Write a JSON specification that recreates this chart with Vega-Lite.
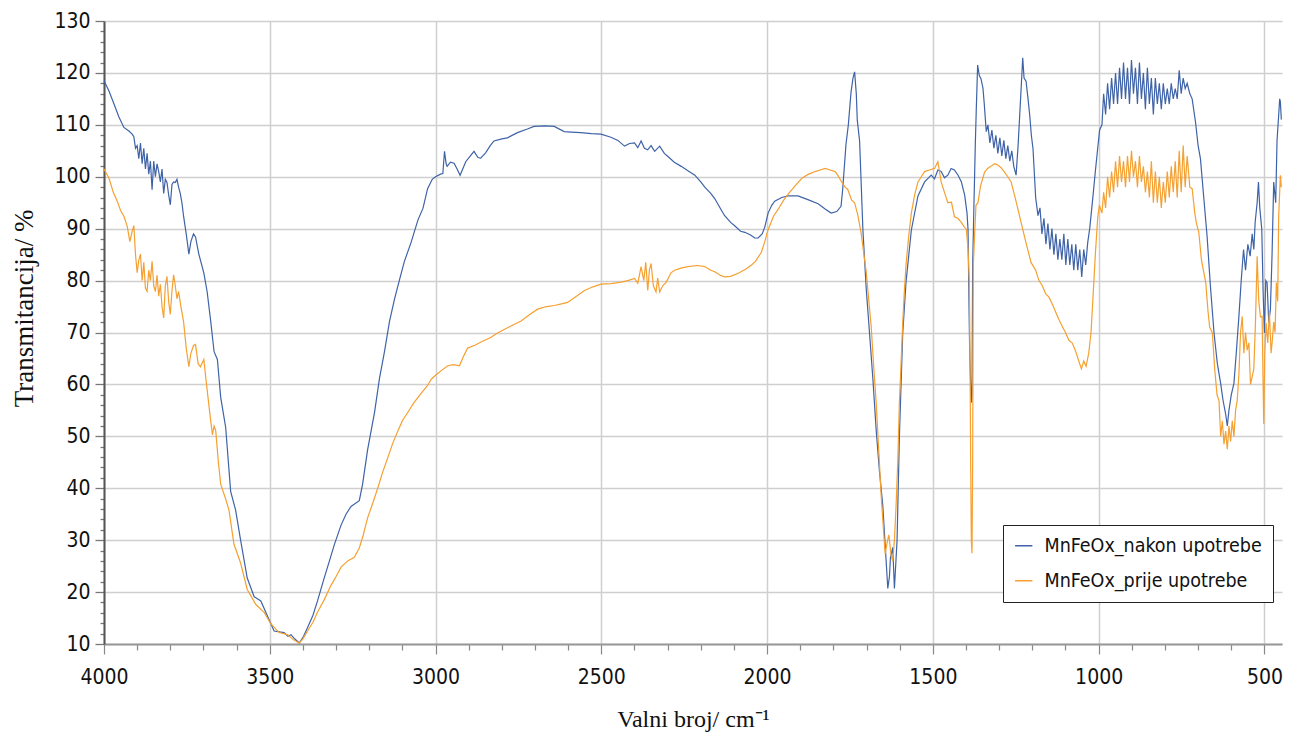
{
  "$schema": "https://vega.github.io/schema/vega-lite/v6.json",
  "autosize": "none",
  "padding": {"left": 104, "top": 21, "right": 7, "bottom": 100},
  "width": 1178,
  "height": 623,
  "background": "white",
  "config": {"view": {"stroke": null}},
  "datasets": {
    "nakon": [
      {"v":4000,"t":118.5},{"v":3985,"t":116.5},{"v":3971,"t":114.2},{"v":3955,"t":111.5},{"v":3940,"t":109.5},{"v":3925,"t":108.8},{"v":3915,"t":108.2},{"v":3910,"t":107.7},{"v":3905,"t":105.5},{"v":3900,"t":106},{"v":3895,"t":103.5},{"v":3890,"t":106.5},{"v":3885,"t":102.5},{"v":3880,"t":105.5},{"v":3875,"t":101.5},{"v":3870,"t":104.5},{"v":3865,"t":100.5},{"v":3860,"t":103},{"v":3855,"t":97.5},{"v":3850,"t":103},{"v":3845,"t":100},{"v":3840,"t":102.5},{"v":3835,"t":101},{"v":3830,"t":99},{"v":3825,"t":101.5},{"v":3820,"t":96.8},{"v":3815,"t":99.5},{"v":3810,"t":98.9},{"v":3805,"t":96.5},{"v":3800,"t":94.6},{"v":3795,"t":98.5},{"v":3790,"t":99},{"v":3785,"t":98.9},{"v":3780,"t":99.5},{"v":3775,"t":98},{"v":3770,"t":96.8},{"v":3765,"t":95},{"v":3760,"t":92.4},{"v":3752,"t":89},{"v":3744,"t":85.1},{"v":3738,"t":87.5},{"v":3730,"t":89},{"v":3724,"t":88.4},{"v":3714,"t":85.1},{"v":3699,"t":81.5},{"v":3689,"t":77.9},{"v":3678,"t":72.1},{"v":3668,"t":66.3},{"v":3658,"t":64.8},{"v":3648,"t":57.5},{"v":3633,"t":51.7},{"v":3618,"t":39.4},{"v":3603,"t":35.8},{"v":3588,"t":30},{"v":3568,"t":22.7},{"v":3547,"t":19.1},{"v":3527,"t":18.3},{"v":3507,"t":15.4},{"v":3487,"t":12.5},{"v":3457,"t":12.2},{"v":3445,"t":11.5},{"v":3436,"t":11.8},{"v":3425,"t":11},{"v":3411,"t":10.2},{"v":3398,"t":11.5},{"v":3386,"t":13.2},{"v":3370,"t":15.5},{"v":3356,"t":18.3},{"v":3336,"t":22.7},{"v":3320,"t":26},{"v":3305,"t":29.2},{"v":3285,"t":32.9},{"v":3270,"t":35},{"v":3255,"t":36.5},{"v":3230,"t":37.6},{"v":3220,"t":40.8},{"v":3205,"t":47.4},{"v":3184,"t":54.6},{"v":3169,"t":61.2},{"v":3154,"t":66.3},{"v":3139,"t":72.1},{"v":3124,"t":76.4},{"v":3109,"t":80.1},{"v":3094,"t":83.7},{"v":3074,"t":87.3},{"v":3053,"t":91.7},{"v":3038,"t":93.9},{"v":3024,"t":97.7},{"v":3010,"t":99.5},{"v":3000,"t":100},{"v":2985,"t":100.5},{"v":2978,"t":100.6},{"v":2973,"t":104.9},{"v":2968,"t":102.5},{"v":2965,"t":102},{"v":2955,"t":102.8},{"v":2944,"t":102.6},{"v":2935,"t":101.5},{"v":2926,"t":100.3},{"v":2918,"t":101.5},{"v":2909,"t":102.9},{"v":2895,"t":104},{"v":2884,"t":104.9},{"v":2872,"t":103.7},{"v":2864,"t":103.6},{"v":2849,"t":104.6},{"v":2835,"t":106},{"v":2824,"t":106.9},{"v":2800,"t":107.3},{"v":2783,"t":107.5},{"v":2753,"t":108.5},{"v":2723,"t":109.2},{"v":2703,"t":109.7},{"v":2670,"t":109.8},{"v":2642,"t":109.7},{"v":2612,"t":108.7},{"v":2590,"t":108.6},{"v":2562,"t":108.5},{"v":2530,"t":108.3},{"v":2501,"t":108.2},{"v":2471,"t":107.6},{"v":2450,"t":107},{"v":2430,"t":105.9},{"v":2415,"t":106.4},{"v":2400,"t":106.5},{"v":2390,"t":105.6},{"v":2380,"t":106.9},{"v":2370,"t":105.5},{"v":2360,"t":105.2},{"v":2350,"t":106},{"v":2339,"t":104.9},{"v":2324,"t":105.9},{"v":2310,"t":104.5},{"v":2299,"t":103.9},{"v":2280,"t":102.8},{"v":2259,"t":102},{"v":2240,"t":101.2},{"v":2218,"t":100.3},{"v":2200,"t":99},{"v":2188,"t":98},{"v":2170,"t":96.8},{"v":2158,"t":95.8},{"v":2140,"t":93.8},{"v":2128,"t":92.5},{"v":2110,"t":91.2},{"v":2097,"t":90.5},{"v":2080,"t":89.5},{"v":2067,"t":89.3},{"v":2050,"t":88.8},{"v":2037,"t":88.2},{"v":2027,"t":88.2},{"v":2015,"t":89},{"v":2007,"t":90.3},{"v":1997,"t":93},{"v":1986,"t":94.5},{"v":1977,"t":95.3},{"v":1956,"t":96},{"v":1937,"t":96.3},{"v":1907,"t":96.3},{"v":1877,"t":95.6},{"v":1846,"t":94.8},{"v":1825,"t":93.8},{"v":1807,"t":93},{"v":1790,"t":93.3},{"v":1777,"t":94.3},{"v":1772,"t":97.6},{"v":1762,"t":106.3},{"v":1755,"t":110},{"v":1747,"t":116.2},{"v":1741,"t":119},{"v":1736,"t":120.2},{"v":1731,"t":116},{"v":1728,"t":110.9},{"v":1721,"t":106.9},{"v":1711,"t":89.7},{"v":1701,"t":78.4},{"v":1691,"t":69.8},{"v":1681,"t":61.1},{"v":1671,"t":51.2},{"v":1661,"t":43.2},{"v":1651,"t":36.6},{"v":1641,"t":26},{"v":1636,"t":20.7},{"v":1631,"t":23},{"v":1628,"t":26.6},{"v":1621,"t":28.6},{"v":1616,"t":20.7},{"v":1608,"t":30},{"v":1601,"t":49.9},{"v":1591,"t":69.8},{"v":1581,"t":79.7},{"v":1565,"t":89.7},{"v":1545,"t":96.3},{"v":1525,"t":99},{"v":1505,"t":100.3},{"v":1495,"t":99.6},{"v":1485,"t":101.3},{"v":1475,"t":101},{"v":1465,"t":99.8},{"v":1455,"t":100.3},{"v":1445,"t":101.6},{"v":1435,"t":101.3},{"v":1424,"t":100.3},{"v":1414,"t":99},{"v":1404,"t":96.4},{"v":1397,"t":93},{"v":1394,"t":89.9},{"v":1391,"t":75},{"v":1389,"t":66.6},{"v":1386,"t":60},{"v":1384,"t":56.5},{"v":1382,"t":58},{"v":1380,"t":83},{"v":1376,"t":95},{"v":1372,"t":106.3},{"v":1369,"t":113.2},{"v":1365,"t":121.5},{"v":1360,"t":119.5},{"v":1355,"t":118.9},{"v":1349,"t":117.1},{"v":1345,"t":114},{"v":1339,"t":108.7},{"v":1334,"t":110},{"v":1328,"t":106.5},{"v":1322,"t":109},{"v":1316,"t":105.5},{"v":1310,"t":108},{"v":1304,"t":104.5},{"v":1298,"t":107.5},{"v":1292,"t":104},{"v":1286,"t":107},{"v":1280,"t":103.5},{"v":1274,"t":106},{"v":1268,"t":103},{"v":1262,"t":105},{"v":1256,"t":102},{"v":1249,"t":100.3},{"v":1243,"t":106},{"v":1238,"t":112},{"v":1233,"t":118},{"v":1229,"t":122.9},{"v":1225,"t":119},{"v":1219,"t":118.4},{"v":1213,"t":115},{"v":1208,"t":111.9},{"v":1203,"t":108},{"v":1198,"t":105.4},{"v":1190,"t":96},{"v":1183,"t":92.5},{"v":1177,"t":94},{"v":1171,"t":89},{"v":1165,"t":92},{"v":1159,"t":87},{"v":1153,"t":91},{"v":1147,"t":86},{"v":1141,"t":90},{"v":1135,"t":85},{"v":1129,"t":89},{"v":1123,"t":84},{"v":1117,"t":88},{"v":1111,"t":84},{"v":1105,"t":89},{"v":1099,"t":83},{"v":1093,"t":88},{"v":1087,"t":83},{"v":1081,"t":87},{"v":1075,"t":82},{"v":1069,"t":87},{"v":1063,"t":82},{"v":1057,"t":86},{"v":1051,"t":80.7},{"v":1045,"t":86},{"v":1039,"t":83},{"v":1033,"t":87.3},{"v":1027,"t":90},{"v":1018,"t":95.7},{"v":1010,"t":101},{"v":1003,"t":105.4},{"v":997,"t":109},{"v":990,"t":110},{"v":985,"t":116},{"v":979,"t":112},{"v":973,"t":118},{"v":967,"t":113},{"v":961,"t":119},{"v":955,"t":114},{"v":949,"t":120},{"v":943,"t":114},{"v":937,"t":121},{"v":931,"t":115},{"v":925,"t":122},{"v":919,"t":115},{"v":913,"t":121},{"v":907,"t":114},{"v":901,"t":122.5},{"v":895,"t":116},{"v":889,"t":121},{"v":883,"t":114},{"v":877,"t":122},{"v":871,"t":115},{"v":865,"t":120},{"v":859,"t":113},{"v":853,"t":121},{"v":847,"t":114},{"v":841,"t":119},{"v":835,"t":112},{"v":829,"t":119},{"v":823,"t":114},{"v":817,"t":118},{"v":811,"t":113},{"v":805,"t":118},{"v":799,"t":114},{"v":793,"t":117},{"v":787,"t":114},{"v":781,"t":118},{"v":775,"t":115},{"v":769,"t":117},{"v":763,"t":115},{"v":757,"t":120.5},{"v":751,"t":116},{"v":745,"t":119},{"v":739,"t":117},{"v":733,"t":118},{"v":725,"t":116},{"v":718,"t":115},{"v":708,"t":110.6},{"v":700,"t":106},{"v":693,"t":103.5},{"v":683,"t":96},{"v":673,"t":88.6},{"v":663,"t":79},{"v":652,"t":69.9},{"v":642,"t":64},{"v":632,"t":60.2},{"v":625,"t":57},{"v":617,"t":54.3},{"v":612,"t":52},{"v":607,"t":55},{"v":600,"t":58},{"v":592,"t":60.2},{"v":585,"t":66},{"v":577,"t":73.1},{"v":570,"t":80},{"v":563,"t":86},{"v":557,"t":82},{"v":550,"t":87},{"v":543,"t":84.7},{"v":537,"t":89},{"v":532,"t":86},{"v":528,"t":91.2},{"v":522,"t":95},{"v":518,"t":99},{"v":514,"t":94},{"v":508,"t":89.9},{"v":504,"t":78},{"v":500,"t":69.9},{"v":496,"t":80},{"v":492,"t":79.6},{"v":487,"t":72},{"v":482,"t":74.4},{"v":477,"t":85},{"v":472,"t":99},{"v":466,"t":95},{"v":462,"t":107},{"v":457,"t":111.9},{"v":454,"t":115},{"v":452,"t":114.5},{"v":449,"t":111}
    ],
    "prije": [
      {"v":4000,"t":101.5},{"v":3985,"t":99.7},{"v":3972,"t":97},{"v":3960,"t":95.3},{"v":3950,"t":93.5},{"v":3940,"t":92.4},{"v":3930,"t":90.5},{"v":3922,"t":87.5},{"v":3915,"t":89.5},{"v":3910,"t":90.6},{"v":3905,"t":85},{"v":3900,"t":81.5},{"v":3895,"t":84},{"v":3890,"t":85.1},{"v":3885,"t":80},{"v":3880,"t":83.5},{"v":3875,"t":78.5},{"v":3870,"t":77.9},{"v":3865,"t":82},{"v":3860,"t":80},{"v":3855,"t":83.7},{"v":3850,"t":79},{"v":3845,"t":77.9},{"v":3840,"t":81},{"v":3835,"t":77},{"v":3830,"t":79.3},{"v":3825,"t":75},{"v":3820,"t":72.8},{"v":3815,"t":79},{"v":3810,"t":80.8},{"v":3805,"t":76},{"v":3800,"t":73.5},{"v":3795,"t":78},{"v":3790,"t":81.1},{"v":3785,"t":79},{"v":3780,"t":76.5},{"v":3775,"t":77.9},{"v":3768,"t":75},{"v":3760,"t":72.1},{"v":3752,"t":67},{"v":3744,"t":63.4},{"v":3738,"t":66},{"v":3730,"t":67.5},{"v":3724,"t":67.7},{"v":3716,"t":64},{"v":3709,"t":63.4},{"v":3699,"t":64.8},{"v":3689,"t":59},{"v":3680,"t":54},{"v":3673,"t":50.3},{"v":3668,"t":52},{"v":3663,"t":51.1},{"v":3655,"t":45},{"v":3648,"t":40.8},{"v":3633,"t":37.9},{"v":3623,"t":35.8},{"v":3608,"t":29.2},{"v":3588,"t":25.6},{"v":3568,"t":20.5},{"v":3542,"t":17.6},{"v":3517,"t":16.1},{"v":3497,"t":13.9},{"v":3472,"t":12.2},{"v":3447,"t":11.8},{"v":3426,"t":10.7},{"v":3411,"t":10.2},{"v":3400,"t":11},{"v":3386,"t":12.5},{"v":3370,"t":14.2},{"v":3356,"t":16.1},{"v":3336,"t":18.5},{"v":3316,"t":21.2},{"v":3300,"t":23},{"v":3285,"t":24.8},{"v":3265,"t":26},{"v":3245,"t":26.7},{"v":3230,"t":28.5},{"v":3218,"t":31},{"v":3205,"t":34.3},{"v":3190,"t":37},{"v":3174,"t":40.1},{"v":3160,"t":43},{"v":3144,"t":45.9},{"v":3130,"t":48.5},{"v":3114,"t":51},{"v":3100,"t":53},{"v":3084,"t":54.6},{"v":3065,"t":56.5},{"v":3043,"t":58.3},{"v":3024,"t":59.8},{"v":3013,"t":61},{"v":2999,"t":61.8},{"v":2980,"t":62.8},{"v":2963,"t":63.6},{"v":2945,"t":63.8},{"v":2928,"t":63.6},{"v":2915,"t":65.5},{"v":2903,"t":67},{"v":2880,"t":67.6},{"v":2858,"t":68.3},{"v":2835,"t":69},{"v":2813,"t":69.9},{"v":2780,"t":71},{"v":2742,"t":72.2},{"v":2715,"t":73.5},{"v":2692,"t":74.5},{"v":2665,"t":75},{"v":2642,"t":75.2},{"v":2620,"t":75.5},{"v":2602,"t":75.8},{"v":2575,"t":77},{"v":2551,"t":78.1},{"v":2525,"t":78.8},{"v":2501,"t":79.3},{"v":2470,"t":79.4},{"v":2440,"t":79.7},{"v":2420,"t":80},{"v":2400,"t":80.4},{"v":2390,"t":79.5},{"v":2380,"t":82.7},{"v":2372,"t":80},{"v":2366,"t":83.5},{"v":2360,"t":78.1},{"v":2355,"t":82},{"v":2350,"t":83.3},{"v":2343,"t":79},{"v":2335,"t":77.8},{"v":2330,"t":80.5},{"v":2324,"t":77.8},{"v":2315,"t":79},{"v":2304,"t":79.7},{"v":2290,"t":81.5},{"v":2279,"t":82},{"v":2260,"t":82.4},{"v":2239,"t":82.7},{"v":2210,"t":82.9},{"v":2188,"t":82.7},{"v":2170,"t":82},{"v":2158,"t":81.7},{"v":2140,"t":81},{"v":2128,"t":80.7},{"v":2110,"t":80.8},{"v":2087,"t":81.4},{"v":2065,"t":82.2},{"v":2047,"t":83},{"v":2035,"t":83.7},{"v":2017,"t":85.5},{"v":2007,"t":87.5},{"v":1997,"t":89.8},{"v":1980,"t":92.5},{"v":1966,"t":93.8},{"v":1950,"t":95.5},{"v":1936,"t":96.7},{"v":1915,"t":98.3},{"v":1895,"t":99.7},{"v":1875,"t":100.5},{"v":1855,"t":101},{"v":1840,"t":101.3},{"v":1825,"t":101.6},{"v":1810,"t":101.3},{"v":1795,"t":101},{"v":1787,"t":100.3},{"v":1775,"t":99},{"v":1765,"t":98},{"v":1757,"t":97.6},{"v":1745,"t":95.5},{"v":1736,"t":95},{"v":1726,"t":92.5},{"v":1716,"t":89},{"v":1708,"t":85},{"v":1701,"t":81.7},{"v":1693,"t":76},{"v":1686,"t":71.1},{"v":1678,"t":63},{"v":1671,"t":56.5},{"v":1663,"t":47},{"v":1656,"t":38.6},{"v":1650,"t":33},{"v":1644,"t":27.3},{"v":1638,"t":29.5},{"v":1633,"t":31},{"v":1631,"t":30},{"v":1626,"t":27},{"v":1621,"t":26},{"v":1616,"t":30},{"v":1611,"t":36.6},{"v":1606,"t":45},{"v":1601,"t":56.5},{"v":1596,"t":64},{"v":1591,"t":71.8},{"v":1586,"t":78},{"v":1581,"t":83},{"v":1573,"t":88.5},{"v":1565,"t":93},{"v":1555,"t":96.5},{"v":1545,"t":99},{"v":1535,"t":100},{"v":1525,"t":101},{"v":1510,"t":101.3},{"v":1495,"t":101.6},{"v":1485,"t":102.9},{"v":1480,"t":101},{"v":1475,"t":99},{"v":1465,"t":97},{"v":1455,"t":95},{"v":1444,"t":95.1},{"v":1435,"t":92.3},{"v":1425,"t":92},{"v":1414,"t":91.2},{"v":1405,"t":90.3},{"v":1399,"t":89.9},{"v":1394,"t":86},{"v":1390,"t":80},{"v":1388,"t":65},{"v":1386,"t":45},{"v":1384,"t":30},{"v":1382,"t":27.5},{"v":1380,"t":45},{"v":1378,"t":83},{"v":1374,"t":89},{"v":1370,"t":94.5},{"v":1364,"t":95},{"v":1356,"t":98.3},{"v":1344,"t":100.9},{"v":1335,"t":101.6},{"v":1325,"t":102},{"v":1314,"t":102.5},{"v":1305,"t":102.3},{"v":1295,"t":101.8},{"v":1284,"t":100.9},{"v":1274,"t":100},{"v":1264,"t":99},{"v":1250,"t":95.5},{"v":1234,"t":91.2},{"v":1220,"t":87.5},{"v":1204,"t":83.5},{"v":1190,"t":82},{"v":1180,"t":80},{"v":1170,"t":79},{"v":1160,"t":77.5},{"v":1150,"t":76.8},{"v":1140,"t":75.5},{"v":1130,"t":74},{"v":1120,"t":72.5},{"v":1110,"t":71.2},{"v":1100,"t":70},{"v":1090,"t":68.5},{"v":1080,"t":68},{"v":1070,"t":66.5},{"v":1060,"t":64.5},{"v":1052,"t":63},{"v":1045,"t":64.5},{"v":1038,"t":63.5},{"v":1030,"t":66},{"v":1023,"t":70},{"v":1016,"t":78},{"v":1010,"t":85},{"v":1003,"t":92},{"v":998,"t":94.5},{"v":990,"t":93},{"v":985,"t":97},{"v":979,"t":94},{"v":973,"t":100},{"v":967,"t":96},{"v":961,"t":101},{"v":955,"t":97},{"v":949,"t":103},{"v":943,"t":98},{"v":937,"t":104},{"v":931,"t":99},{"v":925,"t":103},{"v":919,"t":98},{"v":913,"t":104},{"v":907,"t":99},{"v":901,"t":105},{"v":895,"t":100},{"v":889,"t":103},{"v":883,"t":98},{"v":877,"t":104},{"v":871,"t":99},{"v":865,"t":102},{"v":859,"t":97},{"v":853,"t":101},{"v":847,"t":96},{"v":841,"t":103},{"v":835,"t":95},{"v":829,"t":101},{"v":823,"t":95},{"v":817,"t":100},{"v":811,"t":94},{"v":805,"t":99},{"v":799,"t":95},{"v":793,"t":101},{"v":787,"t":96},{"v":781,"t":102},{"v":775,"t":97},{"v":769,"t":103},{"v":763,"t":96},{"v":757,"t":105},{"v":751,"t":97},{"v":745,"t":106},{"v":739,"t":98},{"v":733,"t":104},{"v":725,"t":98},{"v":718,"t":97.7},{"v":710,"t":93},{"v":705,"t":91},{"v":698,"t":89.3},{"v":690,"t":84},{"v":677,"t":79.6},{"v":670,"t":74},{"v":665,"t":71},{"v":657,"t":69.9},{"v":650,"t":63},{"v":643,"t":58},{"v":637,"t":56.9},{"v":632,"t":50},{"v":627,"t":53},{"v":622,"t":48.5},{"v":617,"t":51},{"v":612,"t":47.5},{"v":607,"t":52},{"v":602,"t":49},{"v":597,"t":53},{"v":592,"t":50},{"v":587,"t":55},{"v":582,"t":56.9},{"v":577,"t":62},{"v":572,"t":70},{"v":567,"t":73.1},{"v":562,"t":66},{"v":557,"t":70},{"v":552,"t":66.6},{"v":547,"t":68},{"v":542,"t":60},{"v":537,"t":61.5},{"v":532,"t":63},{"v":527,"t":72},{"v":522,"t":84.7},{"v":517,"t":76},{"v":512,"t":73},{"v":507,"t":73.1},{"v":504,"t":60},{"v":502,"t":52.4},{"v":499,"t":66},{"v":495,"t":71.8},{"v":490,"t":68},{"v":485,"t":74},{"v":480,"t":66},{"v":477,"t":67.9},{"v":472,"t":72},{"v":468,"t":70},{"v":464,"t":79.6},{"v":460,"t":76},{"v":457,"t":92.5},{"v":454,"t":97},{"v":452,"t":100.3},{"v":449,"t":98}
    ]
  },
  "encoding": {
    "x": {
      "field": "v", "type": "quantitative",
      "scale": {"domain": [447, 4000], "reverse": true, "nice": false, "zero": false},
      "axis": {
        "title": "Valni broj/ cm⁻¹",
        "titleFont": "Liberation Serif", "titleFontSize": 24, "titleFontWeight": "normal", "titleColor": "#111",
        "titlePadding": 20,
        "values": [500,600,700,800,900,1000,1100,1200,1300,1400,1500,1600,1700,1800,1900,2000,2100,2200,2300,2400,2500,2600,2700,2800,2900,3000,3100,3200,3300,3400,3500,3600,3700,3800,3900,4000],
        "labelExpr": "datum.value % 500 === 0 ? format(datum.value, 'd') : ''",
        "labelFont": "DejaVu Sans Condensed, sans-serif", "labelFontSize": 21, "labelColor": "#111",
        "labelPadding": 12, "labelOverlap": false, "labelFlush": false,
        "tickSize": {"condition": {"test": "datum.value % 500 === 0", "value": 10}, "value": 6},
        "tickColor": "#888", "tickWidth": 1.2,
        "domainColor": "#999", "domainWidth": 2,
        "grid": true,
        "gridOpacity": {"condition": {"test": "datum.value % 500 === 0", "value": 1}, "value": 0},
        "gridColor": "#cfcfcf", "gridWidth": 1.5
      }
    },
    "y": {
      "field": "t", "type": "quantitative",
      "scale": {"domain": [10, 130], "nice": false, "zero": false},
      "axis": {
        "title": "Transmitancija/ %",
        "titleFont": "Liberation Serif", "titleFontSize": 27, "titleFontWeight": "normal", "titleColor": "#111",
        "titleAngle": -90, "titleX": -93, "titleY": 287, "titleAlign": "center", "titleBaseline": "top",
        "values": [10,12,14,16,18,20,22,24,26,28,30,32,34,36,38,40,42,44,46,48,50,52,54,56,58,60,62,64,66,68,70,72,74,76,78,80,82,84,86,88,90,92,94,96,98,100,102,104,106,108,110,112,114,116,118,120,122,124,126,128,130],
        "labelExpr": "datum.value % 10 === 0 ? format(datum.value, 'd') : ''",
        "labelFont": "DejaVu Sans Condensed, sans-serif", "labelFontSize": 21, "labelColor": "#111",
        "labelPadding": 5, "labelOverlap": false, "labelFlush": false,
        "tickSize": {"condition": {"test": "datum.value % 10 === 0", "value": 9}, "value": 4},
        "tickColor": "#777", "tickWidth": 1.3,
        "domainColor": "#555", "domainWidth": 2,
        "grid": true,
        "gridOpacity": {"condition": {"test": "datum.value % 10 === 0", "value": 1}, "value": 0},
        "gridColor": "#cfcfcf", "gridWidth": 1.5
      }
    }
  },
  "layer": [
    {
      "data": {"name": "nakon"},
      "mark": {"type": "line", "strokeWidth": 1.2},
      "encoding": {
        "color": {
          "datum": "MnFeOx_nakon upotrebe",
          "type": "nominal",
          "scale": {"domain": ["MnFeOx_nakon upotrebe", "MnFeOx_prije upotrebe"], "range": ["#3f63a8", "#f5a030"]},
          "legend": {
            "title": null, "orient": "none", "legendX": 899, "legendY": 504,
            "fillColor": "white", "strokeColor": "#222", "padding": 11,
            "symbolType": "stroke", "symbolSize": 300, "symbolStrokeWidth": 1.5,
            "labelFont": "DejaVu Sans Condensed, sans-serif", "labelFontSize": 19.5, "labelColor": "#111",
            "labelOffset": 11, "rowPadding": 14, "labelLimit": 400
          }
        }
      }
    },
    {
      "data": {"name": "prije"},
      "mark": {"type": "line", "strokeWidth": 1.2},
      "encoding": {
        "color": {"datum": "MnFeOx_prije upotrebe", "type": "nominal"}
      }
    }
  ]
}
